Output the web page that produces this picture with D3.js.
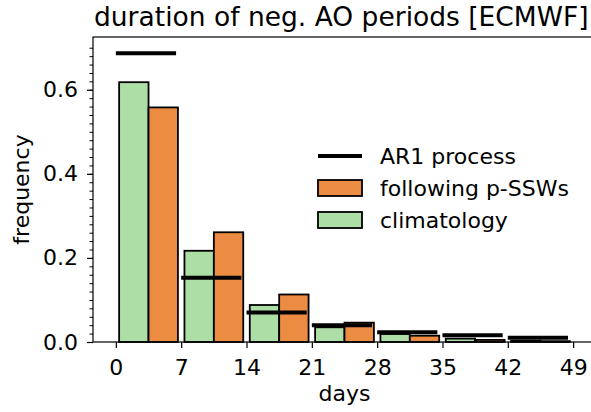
<!DOCTYPE html>
<html>
<head>
<meta charset="utf-8">
<script src="https://cdn.jsdelivr.net/npm/d3@7"></script>
<style>
  body { margin: 0; background: #fff; }
  svg { display: block; font-family: "DejaVu Sans", sans-serif; }
</style>
</head>
<body>
<div class="main"></div>
<script>
// données
const binStarts = [0, 7, 14, 21, 28, 35, 42];
const climatology = [0.618, 0.217, 0.088, 0.035, 0.019, 0.008, 0.003];
const followingSSW = [0.558, 0.261, 0.113, 0.046, 0.015, 0.005, 0.002];
const ar1 = [0.687, 0.153, 0.070, 0.040, 0.023, 0.016, 0.010];
const xTicks = [0, 7, 14, 21, 28, 35, 42, 49];
const yTicks = [0, 0.2, 0.4, 0.6];

const width = 591;
const height = 412;
const margin = { top: 37, right: -5, bottom: 70, left: 93 };

const green = '#addea6';
const orange = '#ec8b42';
const fs = '22px';

const svg = d3.select('.main')
  .append('svg')
  .attr('width', width)
  .attr('height', height);

const x = d3.scaleLinear()
  .domain([-2.45, 51.45])
  .range([margin.left, width - margin.right]);

const y = d3.scaleLinear()
  .domain([0, 0.7255])
  .range([height - margin.bottom, margin.top]);

const barW = 3.15;

// climatologie
svg.append('g')
  .selectAll('rect')
  .data(binStarts)
  .enter()
  .append('rect')
  .attr('x', d => x(d + 3.5 - barW))
  .attr('width', x(barW) - x(0))
  .attr('y', (d, i) => y(climatology[i]))
  .attr('height', (d, i) => y(0) - y(climatology[i]))
  .attr('fill', green)
  .attr('stroke', '#000')
  .attr('stroke-width', 1.8);

// après p-SSW
svg.append('g')
  .selectAll('rect')
  .data(binStarts)
  .enter()
  .append('rect')
  .attr('x', d => x(d + 3.5))
  .attr('width', x(barW) - x(0))
  .attr('y', (d, i) => y(followingSSW[i]))
  .attr('height', (d, i) => y(0) - y(followingSSW[i]))
  .attr('fill', orange)
  .attr('stroke', '#000')
  .attr('stroke-width', 1.8);

// processus AR1
svg.append('g')
  .selectAll('line')
  .data(binStarts)
  .enter()
  .append('line')
  .attr('x1', d => x(d))
  .attr('x2', d => x(d + 6.45))
  .attr('y1', (d, i) => y(ar1[i]))
  .attr('y2', (d, i) => y(ar1[i]))
  .attr('stroke', '#000')
  .attr('stroke-width', 4);

// axe horizontal
const gx = svg.append('g')
  .attr('transform', `translate(0, ${y(0)})`)
  .call(d3.axisBottom(x).tickValues(xTicks).tickSize(6).tickPadding(11).tickFormat(d3.format('d')));
gx.select('.domain').remove();
gx.selectAll('line').attr('stroke-width', 1.2);
gx.selectAll('text').style('font-size', fs).style('font-family', '"DejaVu Sans"').attr('fill', '#000');

// axe vertical (mineures)
const gyMinor = svg.append('g')
  .attr('transform', `translate(${margin.left}, 0)`)
  .call(d3.axisLeft(y).tickValues(d3.range(0, 0.72, 0.02)).tickSize(3.5).tickFormat(''));
gyMinor.select('.domain').remove();
gyMinor.selectAll('line').attr('stroke-width', 1);

const gy = svg.append('g')
  .attr('transform', `translate(${margin.left}, 0)`)
  .call(d3.axisLeft(y).tickValues(yTicks).tickSize(6).tickPadding(9).tickFormat(d3.format('.1f')));
gy.select('.domain').remove();
gy.selectAll('line').attr('stroke-width', 1.2);
gy.selectAll('text').style('font-size', fs).style('font-family', '"DejaVu Sans"').attr('fill', '#000');

// cadre
svg.append('rect')
  .attr('x', margin.left)
  .attr('y', margin.top)
  .attr('width', x.range()[1] - margin.left)
  .attr('height', y(0) - margin.top)
  .attr('fill', 'none')
  .attr('stroke', '#000')
  .attr('stroke-width', 1.2);

// titres
svg.append('text')
  .attr('x', 94)
  .attr('y', 26)
  .style('font-size', '26.5px')
  .text('duration of neg. AO periods [ECMWF]');

svg.append('text')
  .attr('x', x(24.5))
  .attr('y', 401)
  .attr('text-anchor', 'middle')
  .style('font-size', fs)
  .text('days');

svg.append('text')
  .attr('transform', `translate(29, ${(y(0) + margin.top) / 2}) rotate(-90)`)
  .attr('text-anchor', 'middle')
  .style('font-size', fs)
  .text('frequency');

// légende
const legend = svg.append('g');
const items = [
  { label: 'AR1 process', type: 'line' },
  { label: 'following p-SSWs', color: orange },
  { label: 'climatology', color: green }
];
items.forEach((it, i) => {
  const cy = 156 + i * 32;
  if (it.type === 'line') {
    legend.append('line')
      .attr('x1', 318).attr('x2', 362)
      .attr('y1', cy).attr('y2', cy)
      .attr('stroke', '#000').attr('stroke-width', 4);
  } else {
    legend.append('rect')
      .attr('x', 318).attr('y', cy - 8)
      .attr('width', 44).attr('height', 16)
      .attr('fill', it.color)
      .attr('stroke', '#000').attr('stroke-width', 1.8);
  }
  legend.append('text')
    .attr('x', 380)
    .attr('y', cy)
    .attr('dy', '0.35em')
    .style('font-size', fs)
    .text(it.label);
});
</script>
</body>
</html>
